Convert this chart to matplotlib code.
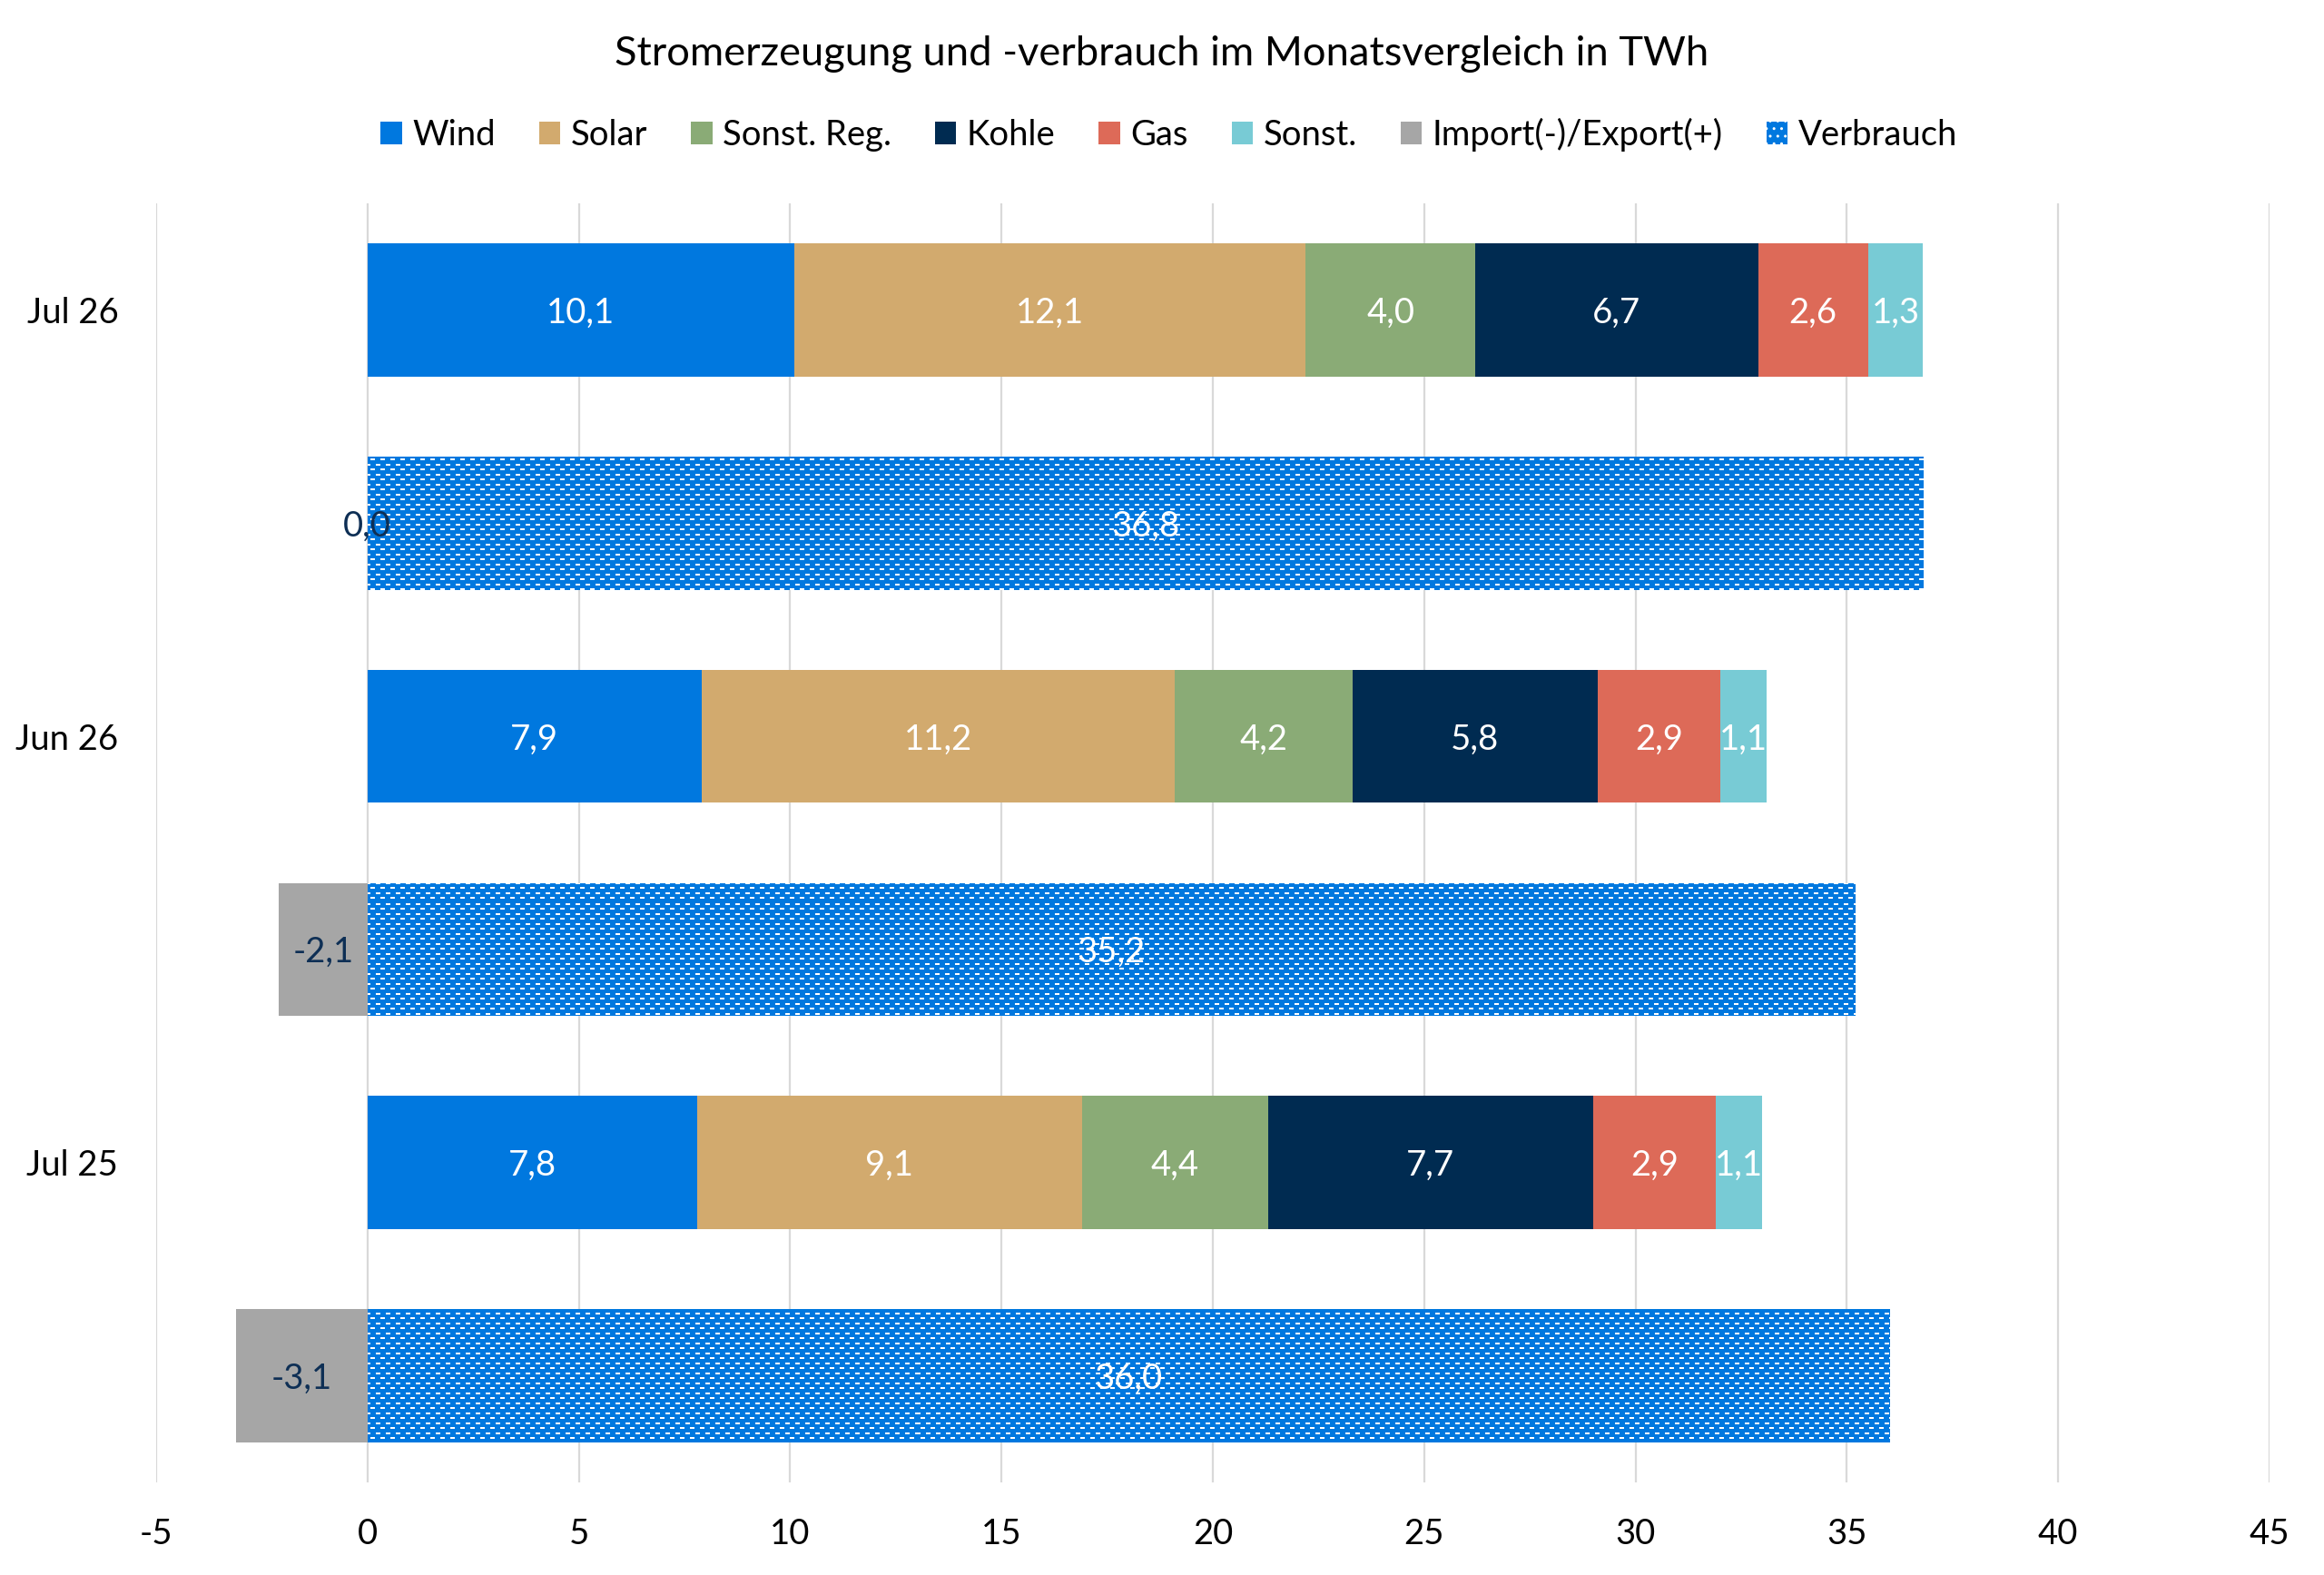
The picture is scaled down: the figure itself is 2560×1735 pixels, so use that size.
import matplotlib.pyplot as plt
import numpy as np
from matplotlib.patches import Patch

plt.rcParams['font.family'] = ['Lato', 'DejaVu Sans']

# Daten (TWh)
months = ['Jul 26', 'Jun 26', 'Jul 25']
sources = ['Wind', 'Solar', 'Sonst. Reg.', 'Kohle', 'Gas', 'Sonst.']
wind = [10.1, 7.9, 7.8]
solar = [12.1, 11.2, 9.1]
sonst_reg = [4.0, 4.2, 4.4]
kohle = [6.7, 5.8, 7.7]
gas = [2.6, 2.9, 2.9]
sonst = [1.3, 1.1, 1.1]
import_export = [0.0, -2.1, -3.1]
verbrauch = [36.8, 35.2, 36.0]

colors = ['#0078DF', '#D2AA6E', '#8AAB76', '#002B51', '#DD6A58', '#78CBD5']
grey = '#A6A6A6'
blue = '#0078DF'
navy = '#0E2F55'

W, H, DPI = 25.6, 17.35, 100
fig = plt.figure(figsize=(W, H), dpi=DPI)
L, R, B, T = 172 / 2560, 2500 / 2560, 1 - 1633 / 1735, 1 - 224 / 1735
ax = fig.add_axes([L, B, R - L, T - B])

fs = 27.5
bh = 0.625
dy = 0.014  # Text etwas tiefer setzen
gen_y = np.array([0, 2, 4])
con_y = gen_y + 1

def fmt(v):
    return f'{v:.1f}'.replace('.', ',')

series = [wind, solar, sonst_reg, kohle, gas, sonst]
left = np.zeros(3)
for vals, c in zip(series, colors):
    vals = np.array(vals)
    bars = ax.barh(gen_y, vals, left=left, height=bh, color=c, zorder=2)
    for b, v in zip(bars, vals):
        ax.text(b.get_x() + b.get_width() / 2, b.get_y() + bh / 2 + dy, fmt(v),
                ha='center', va='center', color='white', fontsize=fs, zorder=5)
    left += vals

# Import/Export
imp_bars = ax.barh(con_y, import_export, height=bh, color=grey, zorder=2)
for b, v in zip(imp_bars, import_export):
    ax.text(v / 2, b.get_y() + bh / 2 + dy, fmt(v), ha='center', va='center',
            color=navy, fontsize=fs, zorder=6)

# Verbrauch mit Muster
con_bars = ax.barh(con_y, verbrauch, height=bh, color=blue, zorder=2)

xmin, xmax = -5, 45
ymin, ymax = 5.5, -0.5
px_w = int(round((R - L) * W * DPI))
px_h = int(round((T - B) * H * DPI))
tile = np.zeros((11, 11), dtype=bool)
tile[1:3, 0:5] = True
tile[6:8, 5:10] = True
mask = np.tile(tile, (px_h // 11 + 1, px_w // 11 + 1))[:px_h, :px_w]
tex = np.empty(mask.shape + (3,))
tex[:] = np.array([0, 120, 223]) / 255
tex[mask] = 1.0
for b, v in zip(con_bars, verbrauch):
    im = ax.imshow(tex, extent=(xmin, xmax, ymin, ymax), origin='upper',
                   aspect='auto', interpolation='nearest', zorder=3)
    im.set_clip_path(b)
    ax.text(v / 2, b.get_y() + bh / 2 + dy, fmt(v), ha='center', va='center',
            color='white', fontsize=fs, zorder=5)

ax.set_xlim(xmin, xmax)
ax.set_ylim(ymin, ymax)
ax.set_xticks(np.arange(-5, 46, 5))
ax.set_xticklabels([str(t) for t in range(-5, 46, 5)])
ax.set_yticks(gen_y)
ax.set_yticklabels(months)
ax.tick_params(axis='x', length=0, pad=28, labelsize=fs)
ax.tick_params(axis='y', length=0, pad=30, labelsize=fs)
ax.grid(axis='x', color='#D9D9D9', linewidth=1.6, zorder=0)
ax.set_axisbelow(True)
for s in ax.spines.values():
    s.set_visible(False)

fig.text(0.5, 1 - 60 / 1735, 'Stromerzeugung und -verbrauch im Monatsvergleich in TWh',
         ha='center', va='center', fontsize=32.6)

handles = [Patch(facecolor=c, label=n) for n, c in zip(sources, colors)]
handles.append(Patch(facecolor=grey, label='Import(-)/Export(+)'))
handles.append(Patch(facecolor=blue, edgecolor='white', linewidth=0, hatch='..',
                     label='Verbrauch'))
fig.legend(handles=handles, loc='center', bbox_to_anchor=(0.503, 1 - 148 / 1735),
           ncol=8, frameon=False, fontsize=fs, handlelength=0.62, handleheight=0.64,
           handletextpad=0.3, columnspacing=1.25)

fig.savefig('out.png', dpi=DPI)
